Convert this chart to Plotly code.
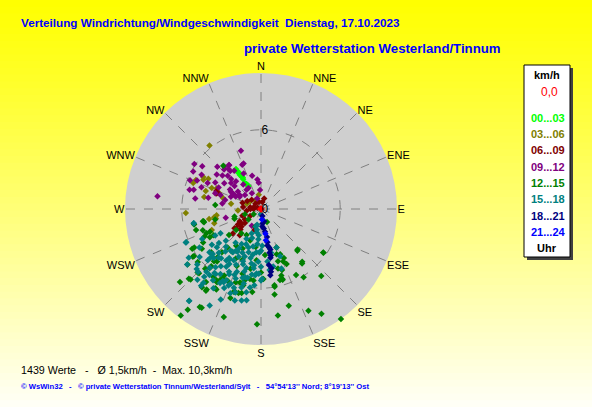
import plotly.graph_objects as go

W, H = 592, 407

# ---------------- data: (direction in degrees, speed km/h) per time window ----------------
dir_00_03 = [328, 328, 328, 329, 329, 328, 330, 331, 327, 330, 331, 329]
spd_00_03 = [3.57, 3.33, 3.05, 2.85, 2.62, 2.33, 2.19, 1.97, 3.45, 2.75, 2.05, 3.2]

dir_03_06 = [321, 299, 297, 294, 291, 288, 282, 293, 295, 291, 280, 266, 267, 253, 247,
             260, 262, 258, 259, 290, 305, 327, 351, 300, 286]
spd_03_06 = [6.2, 5.0, 4.9, 5.4, 5.5, 4.4, 4.4, 4.05, 3.7, 3.4, 2.3, 1.75, 5.7, 3.7, 4.05,
             3.6, 3.4, 3.5, 4.0, 1.15, 1.0, 0.8, 1.1, 4.6, 3.0]

dir_06_09 = [291, 276, 263, 279, 270, 313, 343, 236, 228, 240, 234, 237, 237, 229, 197, 11,
             17, 233, 229, 219, 232, 289, 292, 290, 289, 270, 283, 290, 300, 315, 250, 225]
spd_06_09 = [3.57, 1.36, 1.1, 0.83, 0.56, 0.58, 0.55, 2.11, 1.99, 1.86, 2.48, 1.45, 0.98, 2.83,
             1.66, 0.54, 0.83, 1.85, 1.61, 2.56, 2.38, 3.59, 3.65, 3.54, 1.48, 0.8, 0.57, 0.27,
             1.2, 1.0, 1.5, 2.2]

dir_09_12 = [341, 304, 299, 300, 294, 286, 290, 279, 277, 314, 311, 324, 321, 337, 325, 300,
             297, 289, 289, 284, 311, 311, 318, 302, 299, 307, 303, 296, 292, 324, 323, 353,
             355, 278, 282, 339, 308, 319, 315, 324, 317, 321, 357, 340, 329, 330, 311, 300,
             298, 300, 256, 209, 285, 306, 296, 315, 334, 345, 305, 292]
spd_09_12 = [4.67, 6.09, 5.87, 5.2, 5.3, 5.3, 4.8, 5.04, 7.9, 4.6, 3.87, 4.13, 3.9, 3.64, 3.54,
             4.0, 3.6, 3.67, 3.25, 2.8, 3.0, 2.65, 2.83, 2.77, 2.45, 2.19, 1.93, 2.14, 2.46,
             2.29, 1.82, 2.26, 1.99, 2.96, 4.08, 3.69, 4.25, 4.23, 3.57, 4.1, 4.1, 3.7, 1.45,
             0.85, 1.85, 1.38, 1.61, 1.86, 2.27, 2.63, 2.75, 1.44, 5.6, 5.5, 4.5, 3.2, 3.0,
             2.6, 3.4, 5.8]

dir_12_15 = [155, 138, 125, 143, 155, 152, 148, 163, 165, 163, 170, 171, 164, 155, 150, 171,
             182, 144, 170, 163, 161, 155, 161, 162, 217, 216, 211, 199, 228, 226, 225, 235,
             240, 240, 246, 258, 217, 214, 212, 209, 199, 198, 193, 186, 193, 196, 209, 205,
             221, 222, 319, 275, 257, 254, 252, 250, 241, 240, 235, 233, 230, 223, 224, 225,
             215, 212, 217, 214, 210, 209, 211, 210, 199, 193, 198, 195, 189, 186, 250, 252,
             230, 235, 198, 257, 258, 257, 246, 244, 241, 231, 230, 219, 209, 199, 214, 221,
             222, 220, 221, 158, 157, 157, 164, 139, 142, 125, 138, 180, 185, 190, 200, 205,
             175, 188, 178, 236, 229, 222, 203, 196, 214, 207]
spd_12_15 = [1.08, 4.14, 5.75, 5.17, 4.59, 5.66, 6.09, 5.26, 5.56, 5.61, 5.97, 6.56, 7.62, 8.5,
             9.16, 8.17, 8.73, 10.3, 5.86, 5.54, 4.89, 4.1, 3.63, 4.17, 10.1, 9.44, 8.72, 8.65,
             8.26, 7.6, 6.79, 6.3, 5.83, 5.06, 4.52, 4.44, 6.92, 7.46, 6.36, 6.97, 7.12, 6.61,
             6.52, 6.33, 5.56, 5.79, 5.75, 5.99, 5.74, 5.32, 4.35, 3.48, 4.43, 2.09, 5.17, 4.69,
             4.43, 6.01, 6.19, 6.97, 6.25, 6.2, 6.76, 7.54, 6.29, 8.75, 7.43, 7.36, 6.93, 5.98,
             6.48, 6.23, 5.87, 5.93, 6.53, 6.59, 5.36, 5.45, 2.14, 1.28, 1.24, 0.68, 1.39, 3.56,
             4.5, 5.2, 4.23, 4.76, 4.1, 3.12, 2.46, 2.37, 2.26, 2.52, 3.36, 3.86, 4.42, 5.18,
             5.93, 3.14, 3.72, 4.31, 4.68, 4.2, 5.07, 5.78, 6.82, 4.8, 3.9, 4.6, 4.1, 3.3, 3.5,
             2.9, 5.3, 5.4, 5.0, 4.9, 4.7, 5.1, 3.9, 4.2]

dir_15_18 = [258, 246, 239, 228, 229, 221, 213, 211, 209, 206, 201, 191, 207, 204, 199, 192,
             187, 180, 186, 198, 183, 194, 185, 178, 158, 158, 161, 168, 173, 180, 182, 179,
             167, 172, 246, 258, 233, 225, 218, 218, 197, 207, 224, 227, 220, 218, 215, 218,
             218, 208, 192, 203, 202, 193, 185, 180, 208, 194,
             195, 200, 205, 210, 215, 220, 212, 206, 198, 203, 196, 190, 188, 193, 216, 224,
             230, 226, 214, 200, 190, 185, 183, 186, 192, 197, 203, 209, 217, 223, 234, 238,
             232, 221, 211, 204, 196, 189, 188, 201, 208, 213, 219, 227, 212, 199, 194, 184,
             190, 206, 216, 229, 236, 222, 209, 182, 185, 190, 196, 240,
             202, 211, 218, 226, 195, 187, 205, 214, 199, 191, 209, 221, 231, 243]
spd_15_18 = [5.21, 6.19, 3.58, 3.58, 4.43, 4.9, 4.42, 3.69, 3.03, 2.5, 1.98, 1.61, 5.33, 4.63,
             4.19, 3.8, 4.53, 3.17, 2.66, 3.06, 0.4, 1.23, 1.99, 2.78, 3.14, 3.85, 4.76, 4.46,
             4.0, 4.37, 4.9, 5.29, 3.4, 4.67, 6.24, 5.2, 7.0, 6.75, 8.85, 7.08, 6.62, 6.22,
             5.16, 6.66, 6.69, 6.34, 6.0, 7.37, 8.83, 8.28, 7.09, 6.3, 5.37, 5.3, 5.04, 5.42,
             6.17, 6.13,
             4.9, 5.6, 4.0, 4.8, 5.3, 4.2, 5.8, 6.0, 4.4, 3.6, 3.4, 4.2, 5.0, 5.8, 3.9, 4.6,
             5.1, 5.6, 6.5, 6.8, 6.4, 5.8, 4.0, 3.3, 2.9, 2.3, 2.9, 3.4, 3.2, 3.9, 4.6, 5.5,
             5.9, 6.3, 7.0, 7.5, 7.2, 7.0, 6.0, 5.1, 4.4, 3.9, 4.8, 5.0, 4.5, 3.8, 4.6, 4.9,
             3.5, 5.5, 6.0, 6.4, 6.6, 7.2, 6.4, 3.3, 2.3, 1.8, 1.4, 4.0,
             6.1, 5.1, 5.6, 5.3, 5.4, 4.3, 6.6, 4.7, 6.3, 5.3, 3.7, 5.9, 4.1, 5.0]

dir_18_21 = [169, 166, 176, 170, 168, 169, 168, 169, 169, 172, 171, 172, 170, 168, 170, 172,
             174, 167]
spd_18_21 = [0.54, 0.96, 1.33, 1.75, 2.17, 2.56, 2.98, 3.37, 3.77, 4.28, 4.82, 5.07, 4.55, 3.6,
             2.8, 1.5, 1.1, 3.15]

dir_21_24 = [175, 170, 171]
spd_21_24 = [0.8, 1.9, 2.4]

dir_calm = [0]
spd_calm = [0.0]

compass_labels = ["N", "NNE", "NE", "ENE", "E", "ESE", "SE", "SSE",
                  "S", "SSW", "SW", "WSW", "W", "WNW", "NW", "NNW"]
radial_ticks = [0, 6]
speed_max = 10.3

legend_labels = ["00...03", "03...06", "06...09", "09...12", "12...15", "15...18", "18...21", "21...24"]
legend_colors = ["#00FF00", "#808000", "#800000", "#800080", "#008000", "#008080", "#000080", "#0000FF"]

groups = [
    (dir_00_03, spd_00_03), (dir_03_06, spd_03_06), (dir_06_09, spd_06_09),
    (dir_09_12, spd_09_12), (dir_12_15, spd_12_15), (dir_15_18, spd_15_18),
    (dir_18_21, spd_18_21), (dir_21_24, spd_21_24),
]

fig = go.Figure()
for (d, s), lab, col in zip(groups, legend_labels, legend_colors):
    fig.add_trace(go.Scatterpolar(
        theta=d, r=s, mode="markers", name=lab,
        marker=dict(symbol="diamond", size=5, color=col, line=dict(width=0)),
        hoverinfo="skip", showlegend=False))
fig.add_trace(go.Scatterpolar(
    theta=dir_calm, r=spd_calm, mode="markers",
    marker=dict(symbol="diamond", size=6, color="#FF0000", line=dict(width=0)),
    hoverinfo="skip", showlegend=False))

def px(x):
    return x / W

def py(y):
    return 1 - y / H

# background gradient (yellow -> pale cream)
shapes = []
n = 60
for i in range(n):
    f = (i + 0.5) / n
    b = int(round(248 * f ** 1.1))
    shapes.append(dict(type="rect", xref="paper", yref="paper", x0=0, x1=1,
                       y0=1 - (i + 1) / n - 0.002, y1=1 - i / n,
                       fillcolor=f"rgb(255,255,{b})", line=dict(width=0), layer="below"))

# legend box with shadow
shapes.append(dict(type="rect", xref="paper", yref="paper",
                   x0=px(527), x1=px(573), y0=py(260), y1=py(68),
                   fillcolor="#404040", line=dict(width=0), layer="below"))
shapes.append(dict(type="rect", xref="paper", yref="paper",
                   x0=px(524), x1=px(570), y0=py(257), y1=py(65),
                   fillcolor="#FFFFFF", line=dict(color="#000000", width=1), layer="below"))

ann = []
LF = "Liberation Sans, Arial"
ann.append(dict(text="<b>Verteilung Windrichtung/Windgeschwindigkeit  Dienstag, 17.10.2023</b>",
                x=px(18.5), y=py(22), xanchor="left", yanchor="middle",
                font=dict(family=LF, size=11.7, color="#0000FF")))
ann.append(dict(text="<b>private Wetterstation Westerland/Tinnum</b>",
                x=px(241.5), y=py(49), xanchor="left", yanchor="middle",
                font=dict(family=LF, size=13.2, color="#0000FF")))
ann.append(dict(text="<b>km/h</b>", x=px(547), y=py(75), xanchor="center", yanchor="middle",
                font=dict(family=LF, size=11, color="#000000")))
ann.append(dict(text="0,0", x=px(549), y=py(92), xanchor="center", yanchor="middle",
                font=dict(family=LF, size=12, color="#FF0000")))
leg_y = [118, 134, 150, 167, 183, 199, 216, 232]
for lab, col, yy in zip(legend_labels, legend_colors, leg_y):
    ann.append(dict(text=f"<b>{lab}</b>", x=px(548), y=py(yy), xanchor="center", yanchor="middle",
                    font=dict(family=LF, size=11, color=col)))
ann.append(dict(text="<b>Uhr</b>", x=px(547), y=py(248), xanchor="center", yanchor="middle",
                font=dict(family=LF, size=11, color="#000000")))
ann.append(dict(text="1439 Werte   -   Ø 1,5km/h  -  Max. 10,3km/h",
                x=px(18.5), y=py(370), xanchor="left", yanchor="middle",
                font=dict(family=LF, size=10.7, color="#000000")))
ann.append(dict(text="<b>© WsWin32   -   © private Wetterstation Tinnum/Westerland/Sylt   -   54°54'13'' Nord; 8°19'13'' Ost</b>",
                x=px(18.5), y=py(386), xanchor="left", yanchor="middle",
                font=dict(family=LF, size=7.65, color="#0000FF")))
for a in ann:
    a.update(xref="paper", yref="paper", showarrow=False)

cx, cy, R = 261, 209, 136
fig.update_layout(
    width=W, height=H,
    margin=dict(l=0, r=0, t=0, b=0),
    paper_bgcolor="#FFFFC0",
    shapes=shapes,
    annotations=ann,
    polar=dict(
        domain=dict(x=[px(cx - R), px(cx + R)], y=[py(cy + R), py(cy - R)]),
        bgcolor="#CFCFCF",
        hole=0,
        radialaxis=dict(range=[0, speed_max], tickvals=radial_ticks,
                        ticktext=[str(v) for v in radial_ticks], angle=90, tickangle=90,
                        showline=False, ticks="", gridcolor="#808080", griddash="dash",
                        gridwidth=1, tickfont=dict(family=LF, size=12, color="#000000")),
        angularaxis=dict(rotation=90, direction="clockwise",
                         tickvals=[i * 22.5 for i in range(16)], ticktext=compass_labels,
                         showline=False, ticks="", gridcolor="#808080", griddash="dash",
                         gridwidth=1, tickfont=dict(family=LF, size=11, color="#000000")),
    ),
)

fig.write_html("out.html", config={"displayModeBar": False},
               post_script="document.body.style.margin='0px';")
